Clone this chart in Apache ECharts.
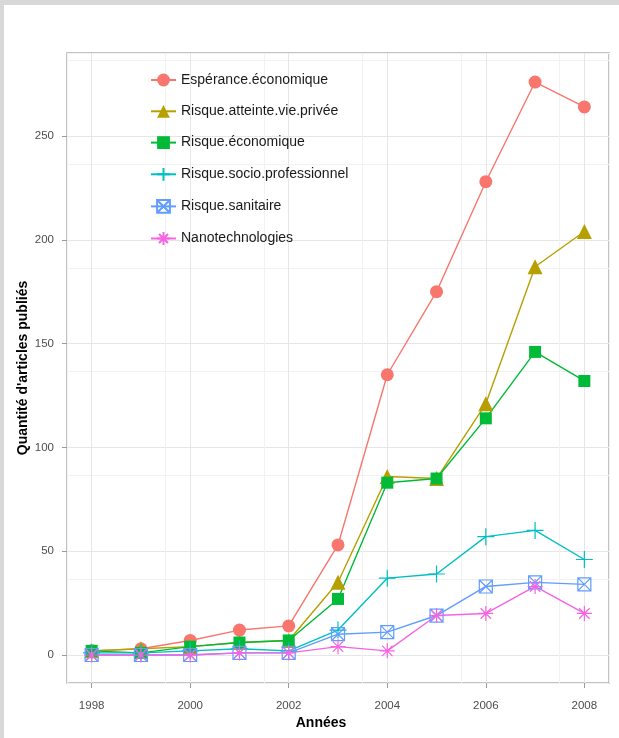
<!DOCTYPE html>
<html>
<head>
<meta charset="utf-8">
<script src="https://cdn.jsdelivr.net/npm/echarts@6/dist/echarts.min.js"></script>
<style>
  html, body { margin: 0; padding: 0; background: #d8d8d8; }
  #chart { position: absolute; left: 4px; top: 5px; width: 615px; height: 733px; background: #ffffff; }
</style>
</head>
<body>
<div id="chart"></div>
<script>
// ---- Data ----
const years = [1998, 1999, 2000, 2001, 2002, 2003, 2004, 2005, 2006, 2007, 2008];
const esperanceEconomique   = [2, 3, 7, 12, 14, 53, 135, 175, 228, 276, 264];
const risqueAtteinteVie     = [2, 3, 4, 6, 7, 35, 86, 85, 121, 187, 204];
const risqueEconomique      = [2, 1, 4, 6, 7, 27, 83, 85, 114, 146, 132];
const risqueSocioPro        = [1, 1, 2, 3, 2, 12, 37, 39, 57, 60, 46];
const risqueSanitaire       = [0, 0, 0, 1, 1, 10, 11, 19, 33, 35, 34];
const nanotechnologies      = [0, 0, 0, 1, 1, 4, 2, 19, 20, 33, 20];
const seriesNames = ['Espérance.économique', 'Risque.atteinte.vie.privée', 'Risque.économique',
                     'Risque.socio.professionnel', 'Risque.sanitaire', 'Nanotechnologies'];
const xTickLabels = [1998, 2000, 2002, 2004, 2006, 2008];
const yTickLabels = [0, 50, 100, 150, 200, 250];

const allValues = [esperanceEconomique, risqueAtteinteVie, risqueEconomique, risqueSocioPro, risqueSanitaire, nanotechnologies];
const colors = ['#F8766D', '#B79F00', '#00BA38', '#00BFC4', '#619CFF', '#F564E3'];

const plusPath = 'path://M5,0 L5,10 M0,5 L10,5';
const boxXPath = 'path://M0,0 L10,0 L10,10 L0,10 Z M0,0 L10,10 M10,0 L0,10';
const asteriskPath = 'path://M5,0 L5,10 M0,5 L10,5 M1.5,1.5 L8.5,8.5 M8.5,1.5 L1.5,8.5';

const symbols = [
  { symbol: 'circle', size: 13, filled: true },
  { symbol: 'triangle', size: 15, filled: true },
  { symbol: 'rect', size: 12, filled: true },
  { symbol: plusPath, size: 17, filled: false },
  { symbol: boxXPath, size: 13, filled: false },
  { symbol: asteriskPath, size: 15, filled: false }
];

const series = allValues.map((vals, i) => ({
  name: seriesNames[i],
  type: 'line',
  xAxisIndex: 0,
  yAxisIndex: 0,
  data: years.map((y, j) => [y, vals[j]]),
  symbol: symbols[i].symbol,
  symbolSize: symbols[i].size,
  showAllSymbol: true,
  lineStyle: { color: colors[i], width: 1.4 },
  itemStyle: symbols[i].filled
    ? { color: colors[i], borderWidth: 0 }
    : { color: 'rgba(0,0,0,0)', borderColor: colors[i], borderWidth: 1.2 },
  emphasis: { disabled: true },
  animation: false
}));

const labelColor = '#4d4d4d';
const tickColor = '#9a9a9a';
const font = 'Liberation Sans, Arial, sans-serif';

const option = {
  animation: false,
  grid: {
    left: 63, top: 48, right: 10, bottom: 55,
    show: true, borderColor: '#b0b0b0', borderWidth: 1.5, backgroundColor: '#ffffff'
  },
  legend: {
    orient: 'vertical',
    left: 141, top: 63,
    itemWidth: 25, itemHeight: 16, itemGap: 17.3,
    textStyle: { fontFamily: font, fontSize: 14, color: '#1a1a1a', lineHeight: 14 },
    data: seriesNames
  },
  xAxis: [
    {
      // main axis: ticks every 2 years starting from 1998
      type: 'value', min: 1997.5, max: 2008.5, interval: 2,
      name: 'Années', nameLocation: 'middle', nameGap: 33, nameMoveOverlap: false,
      nameTextStyle: { fontFamily: font, fontWeight: 'bold', fontSize: 14, color: '#000', padding: [0, 34, 0, 0] },
      axisLine: { show: false, onZero: false },
      axisTick: { show: true, length: 5, lineStyle: { color: tickColor }, customValues: xTickLabels },
      axisLabel: { customValues: xTickLabels, formatter: v => String(v), fontFamily: font, fontSize: 11.5, color: labelColor, margin: 17 },
      splitLine: { show: true, lineStyle: { color: '#e6e6e6', width: 1 } }
    },
    {
      // helper axis shifted by one year: provides the minor grid at odd years
      type: 'value', min: 1996.5, max: 2007.5, interval: 2,
      axisLine: { show: false, onZero: false }, axisTick: { show: false }, axisLabel: { show: false },
      splitLine: { show: true, lineStyle: { color: '#f2f2f2', width: 1 } }
    }
  ],
  yAxis: [
    {
      type: 'value', min: -13.5, max: 290, interval: 50,
      name: "Quantité d'articles publiés", nameLocation: 'middle', nameGap: 37, nameMoveOverlap: false,
      nameTextStyle: { fontFamily: font, fontWeight: 'bold', fontSize: 14, color: '#000' },
      axisLine: { show: false, onZero: false },
      axisTick: { show: true, length: 5, lineStyle: { color: tickColor }, customValues: yTickLabels },
      axisLabel: { customValues: yTickLabels, fontFamily: font, fontSize: 11.5, color: labelColor, margin: 13 },
      splitLine: { show: true, lineStyle: { color: '#e6e6e6', width: 1 } }
    },
    {
      // helper axis shifted by 25: provides the minor grid at 25, 75, ...
      type: 'value', min: -38.5, max: 265, interval: 50, position: 'left',
      axisLine: { show: false, onZero: false }, axisTick: { show: false }, axisLabel: { show: false },
      splitLine: { show: true, lineStyle: { color: '#f2f2f2', width: 1 } }
    }
  ],
  series: series
};

const chart = echarts.init(document.getElementById('chart'), null, { renderer: 'canvas' });
chart.setOption(option);
</script>
</body>
</html>
